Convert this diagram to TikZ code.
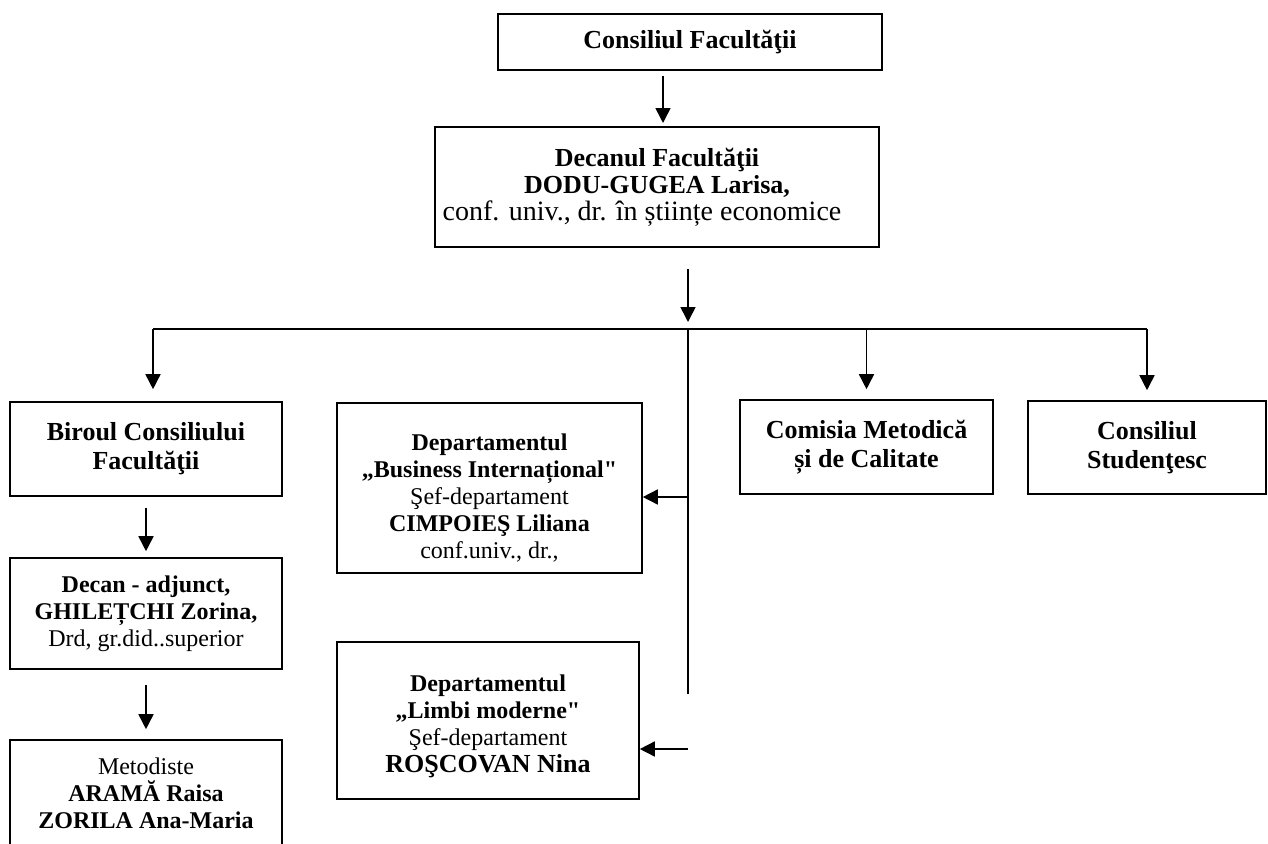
\documentclass[tikz,border=0pt]{standalone}
\usepackage{fontspec}
\setmainfont{Liberation Serif}[Ligatures=TeXOff]
\usetikzlibrary{arrows.meta}

\newcommand{\hd}[2][26]{{\fontsize{#1}{27}\selectfont\bfseries #2}}

\begin{document}
\begin{tikzpicture}[
    x=1pt, y=-1pt,
    box/.style={draw, rectangle, line width=1.6pt, align=center, inner sep=2pt, font=\fontsize{24}{27}\selectfont},
    boxtext/.style={align=center, inner sep=0pt, font=\fontsize{24}{27}\selectfont},
    arrow/.style={-{Triangle[length=15pt,width=15pt]}, line width=1.6pt}
]
    \useasboundingbox (0,0) rectangle (1268,843);

    % Nodes
    \node[box, minimum width=384pt, minimum height=56pt] (consiliu) at (690,42) {\hd{Consiliul Facultăţii}};
    \node[box, minimum width=444pt, minimum height=120pt] (decan) at (657,187) {\hd{Decanul Facultăţii}\\ \hd{DODU-GUGEA Larisa,}\\ {\fontsize{28}{28}\selectfont conf. univ., dr. în științe economice\hspace*{30pt}}};
    \node[box, minimum width=272pt, minimum height=94pt] (biroul) at (146,449) {\hd{Biroul Consiliului}\\[2pt] \hd{Facultăţii}};
    \node[box, minimum width=305pt, minimum height=170pt] (business) at (489.5,488) {};
    \node[boxtext] (businesstext) at ([yshift=-10pt]business.center) {\hd[24]{Departamentul}\\ \hd[24]{„Business Internațional"}\\ Şef-departament\\ \hd[24]{CIMPOIEŞ Liliana}\\ conf.univ., dr.,};
    \node[box, minimum width=253pt, minimum height=94pt] (comisia) at (866.5,447) {\hd{Comisia Metodică}\\[2pt] \hd{și de Calitate}};
    \node[box, minimum width=238pt, minimum height=93pt] (studentesc) at (1147,447.5) {\hd{Consiliul}\\[2pt] \hd{Studenţesc}};
    \node[box, minimum width=272pt, minimum height=111pt] (adjunct) at (146,613.5) {\hd[24]{Decan - adjunct,}\\ \hd[24]{GHILEȚCHI Zorina,}\\ Drd, gr.did..superior};
    \node[box, minimum width=302pt, minimum height=157pt] (roscovan) at (488,720.5) {};
    \node[boxtext] (roscovantext) at ([yshift=-6pt]roscovan.center) {\hd[24]{Departamentul}\\ \hd[24]{„Limbi moderne"}\\ Şef-departament\\ \hd{ROŞCOVAN Nina}};
    \node[box, minimum width=272pt, minimum height=106pt] (metodiste) at (146,793) {Metodiste\\ \hd[24]{ARAMĂ Raisa}\\ \hd[24]{ZORILA Ana-Maria}};

    % Branch points
    \coordinate (split) at (688,269);
    \coordinate (bar) at (688,329);
    \coordinate (barL) at (153,329);
    \coordinate (barR) at (1147,329);
    \coordinate (trunk) at (688,694);
    \coordinate (bizarm) at (688,497);
    \coordinate (lmarm) at (688,749);
    \coordinate (decanin) at (663,127);

    % Connections
    \draw[arrow, shorten <=5pt, shorten >=4pt] (consiliu.south -| decanin) -- (decanin);
    \draw[arrow, shorten >=7pt] (split) -- (bar);
    \draw[line width=1.6pt] (barL) -- (barR);
    \draw[line width=1.6pt] (bar) -- (trunk);
    \draw[arrow, shorten >=12pt] (barL) -- (barL |- biroul.north);
    \draw[arrow, shorten >=10pt] (bar -| comisia.north) -- (comisia.north);
    \draw[arrow, shorten >=10pt] (barR) -- (barR |- studentesc.north);
    \draw[arrow] (bizarm) -- (bizarm -| business.east);
    \draw[arrow] (lmarm) -- (lmarm -| roscovan.east);
    \draw[arrow, shorten <=11pt, shorten >=6pt] (biroul.south) -- (adjunct.north);
    \draw[arrow, shorten <=15pt, shorten >=10pt] (adjunct.south) -- (metodiste.north);
\end{tikzpicture}
\end{document}
